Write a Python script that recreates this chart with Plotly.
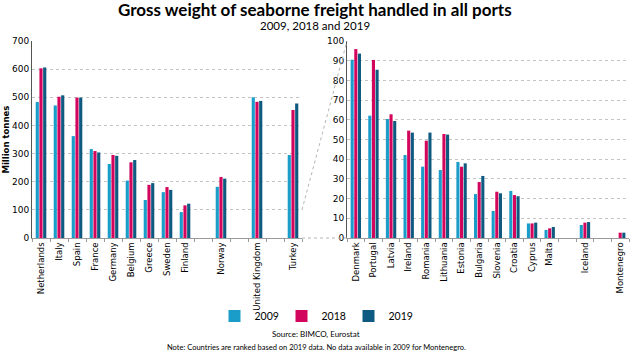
import plotly.graph_objects as go

# ---------------- data ----------------
years = ["2009", "2018", "2019"]
colors = ["#1B9DC9", "#D3065E", "#0E5A80"]

left_slots = ["Netherlands", "Italy", "Spain", "France", "Germany", "Belgium", "Greece",
              "Sweden", "Finland", "", "Norway", "", "United Kingdom", "", "Turkey"]
left_countries = ["Netherlands", "Italy", "Spain", "France", "Germany", "Belgium", "Greece",
                  "Sweden", "Finland", "Norway", "United Kingdom", "Turkey"]
left_2009 = [483, 471, 362, 316, 263, 204, 135, 163, 92, 182, 500, 295]
left_2018 = [603, 502, 499, 309, 295, 269, 189, 181, 116, 217, 484, 455]
left_2019 = [606, 507, 499, 304, 292, 277, 195, 171, 122, 211, 487, 478]

right_slots = ["Denmark", "Portugal", "Latvia", "Ireland", "Romania", "Lithuania", "Estonia",
               "Bulgaria", "Slovenia", "Croatia", "Cyprus", "Malta", "", "Iceland", "", "Montenegro"]
right_countries = ["Denmark", "Portugal", "Latvia", "Ireland", "Romania", "Lithuania", "Estonia",
                   "Bulgaria", "Slovenia", "Croatia", "Cyprus", "Malta", "Iceland", "Montenegro"]
right_2009 = [90.5, 62.1, 60.4, 42.1, 36.2, 34.5, 38.6, 22.3, 13.7, 23.9, 7.4, 4.1, 6.6, None]
right_2018 = [95.9, 90.4, 62.8, 54.5, 49.4, 52.8, 36.2, 28.4, 23.5, 21.8, 7.4, 4.9, 7.8, 2.7]
right_2019 = [93.6, 85.4, 59.4, 53.5, 53.5, 52.5, 37.9, 31.5, 22.7, 21.2, 7.8, 5.6, 8.1, 2.7]

left_max = 700
right_max = 100  # zoomed range shown on right panel

title = "Gross weight of seaborne freight handled in all ports"
subtitle = "2009, 2018 and 2019"
y_title = "Million tonnes"
source = "Source: BIMCO, Eurostat"
note = "Note: Countries are ranked based on 2019 data. No data available in 2009 for Montenegro."

# ---------------- layout geometry ----------------
W, H = 630, 353
xl = (32 / W, 302 / W)
xr = (347 / W, 629 / W)
yd = (1 - 238 / H, 1 - 41 / H)

FONT = "Lato"
TICKFONT = "DejaVu Sans"

left_x = [left_slots.index(c) for c in left_countries]
right_x = [right_slots.index(c) for c in right_countries]

fig = go.Figure()
left_vals = [left_2009, left_2018, left_2019]
right_vals = [right_2009, right_2018, right_2019]
for i, yr in enumerate(years):
    fig.add_trace(go.Bar(x=left_x, y=left_vals[i], name=yr, marker_color=colors[i],
                         marker_line_width=0, xaxis="x", yaxis="y", legendgroup=yr,
                         offsetgroup=yr))
    fig.add_trace(go.Bar(x=right_x, y=right_vals[i], name=yr, marker_color=colors[i],
                         marker_line_width=0, xaxis="x2", yaxis="y2", legendgroup=yr,
                         offsetgroup=yr, showlegend=False))


def xaxis_cfg(domain, slots, anchor):
    ticks_idx = [i for i, s in enumerate(slots) if s]
    return dict(domain=domain, anchor=anchor, range=[-0.5, len(slots) - 0.5],
                tickmode="array", tickvals=ticks_idx, ticktext=[slots[i] for i in ticks_idx],
                tickangle=-90, ticks="", showgrid=False, zeroline=False, automargin=False,
                showline=True, linecolor="#9a9a9a", linewidth=1,
                tickfont=dict(family=TICKFONT, size=8.5, color="#000"),
                minor=dict(tickvals=[i + 0.5 for i in range(-1, len(slots))], ticks="outside",
                           ticklen=3, tickcolor="#9a9a9a", showgrid=False))


def yaxis_cfg(anchor, ymax, dtick):
    return dict(domain=yd, anchor=anchor, range=[0, ymax], dtick=dtick, automargin=False,
                showgrid=True, gridcolor="#c4c4c4", griddash="dot", gridwidth=1,
                zeroline=False, showline=True, linecolor="#555", linewidth=1,
                ticks="",
                tickfont=dict(family=TICKFONT, size=9, color="#000"))


fig.update_layout(
    width=W, height=H, margin=dict(l=0, r=0, t=0, b=0, pad=0, autoexpand=False),
    paper_bgcolor="white", plot_bgcolor="white",
    barmode="group", bargap=0.38, bargroupgap=0.15,
    xaxis=xaxis_cfg(xl, left_slots, "y"),
    yaxis=yaxis_cfg("x", left_max, 100),
    xaxis2=xaxis_cfg(xr, right_slots, "y2"),
    yaxis2=yaxis_cfg("x2", right_max, 10),
    showlegend=True,
    legend=dict(orientation="h", x=0.5, xanchor="center", y=1 - 316 / H, yanchor="middle",
                font=dict(family=FONT, size=10.5, color="#000"),
                itemwidth=30, entrywidth=22, bgcolor="rgba(0,0,0,0)"),
)

# connector lines between panels
yfrac100 = yd[0] + (right_max / left_max) * (yd[1] - yd[0])
fig.add_shape(type="line", xref="paper", yref="paper", x0=xl[1], y0=yfrac100, x1=xr[0], y1=yd[1],
              line=dict(color="#b5b5b5", width=1, dash="dot"))
fig.add_shape(type="line", xref="paper", yref="paper", x0=xl[1], y0=yd[0], x1=xr[0], y1=yd[0],
              line=dict(color="#b5b5b5", width=1, dash="dot"))

annots = [
    dict(text=f"<b>{title}</b>", x=0.5, y=1 - 9 / H, font=dict(family=FONT, size=17, color="#000")),
    dict(text=subtitle, x=0.5, y=1 - 25 / H, font=dict(family=FONT, size=11.5, color="#000")),
    dict(text=f"<b>{y_title}</b>", x=5.5 / W, y=1 - 140 / H, textangle=-90,
         font=dict(family=TICKFONT, size=8.5, color="#000")),
    dict(text=source, x=316 / W, y=1 - 334 / H, font=dict(family=FONT, size=8, color="#000")),
    dict(text=note, x=316 / W, y=1 - 347.5 / H, font=dict(family=FONT, size=7.5, color="#000")),
]
for a in annots:
    fig.add_annotation(xref="paper", yref="paper", showarrow=False, xanchor="center",
                       yanchor="middle", borderpad=0, **a)

fig.write_html("out.html")
